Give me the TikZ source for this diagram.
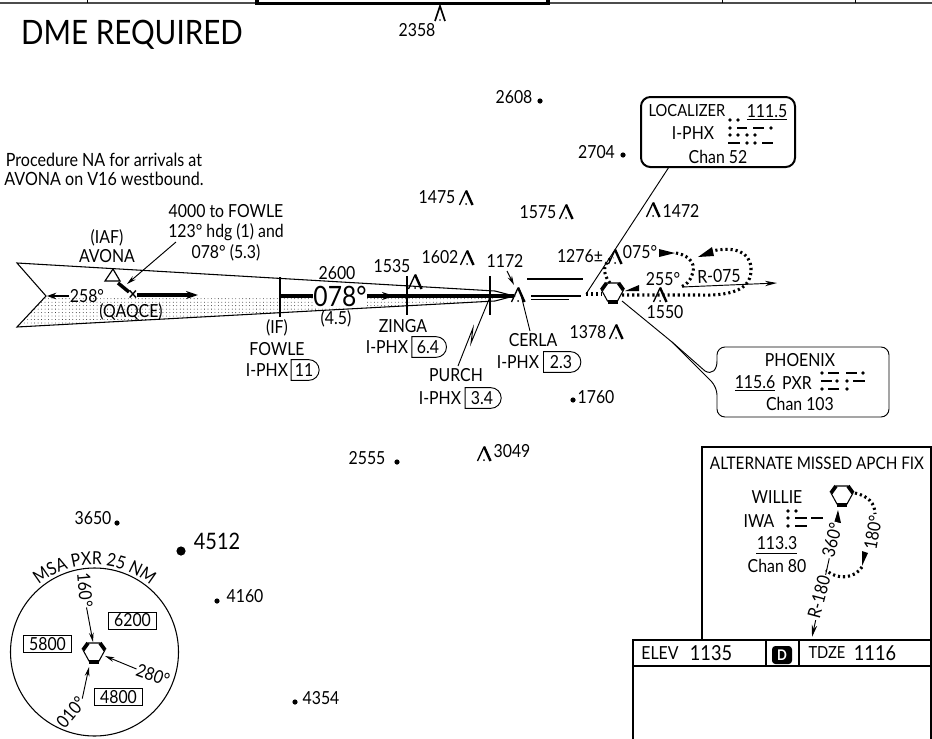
\documentclass[tikz,border=0pt]{standalone}
\usepackage{fontspec}
\setmainfont[FakeStretch=0.88]{Lato}
\usetikzlibrary{arrows.meta,patterns.meta,shapes.misc,decorations.text}
\newcommand{\fsz}{\fontsize{13.5}{15}\selectfont}
\newcommand{\fsm}{\fontsize{12.5}{14}\selectfont}
\newcommand{\msafont}{\fontsize{13.5}{15}\selectfont}
\tikzset{
  lbl/.style={font=\fsz,inner sep=0pt},
  sml/.style={font=\fsm,inner sep=0pt},
  thin line/.style={line width=.7pt},
  leader/.style={line width=.7pt,-{Stealth[length=7pt,width=3.5pt]}},
  course/.style={line width=2.4pt},
  track/.style={line width=2.3pt,dash pattern=on 1.6pt off 2.2pt},
  tag/.style={draw,line width=.7pt,rounded rectangle,rounded rectangle west arc=none,inner sep=0pt,minimum width=21pt,minimum height=15.5pt,font=\fsz},
  alt/.style={draw,line width=.7pt,inner sep=0pt,minimum width=36.5pt,minimum height=12.8pt,font=\fsz},
  mdash/.style={line width=2.2pt},
  obst/.pic={
    \draw[line width=1pt] (-6.5,7) -- (0,-7);
    \draw[line width=1.8pt] (0,-7.5) -- (6.5,7);
    \fill (0,6) circle[radius=1];
  },
  vor/.pic={
    \draw[line width=.8pt] (-6,-10) -- (6,-10) -- (11,-3) -- (5,8) -- (-5,8) -- (-11,-3) -- cycle;
    \draw[line width=2.8pt] (-6,-10) -- (-11,-3) (6,-10) -- (11,-3);
    \draw[line width=3.4pt] (-5,9) -- (5,9);
  }
}
\newcommand{\mdots}[2]{\foreach \mx in {#1} \fill (\mx,#2) circle[radius=1.9];}
\begin{document}
\begin{tikzpicture}[x=0.75pt,y=-0.75pt,line width=.7pt]
\useasboundingbox (0,0) rectangle (932,739);
\fill[white] (0,0) rectangle (932,739);
% top strip
\draw[line width=.8pt,black!70] (0,3) -- (257,3) (549,3) -- (932,3);
\draw[line width=.7pt] (87.5,0) -- (87.5,3) (722,0) -- (722,3) (855,0) -- (855,3);
\draw[line width=2.6pt] (257,0) -- (257,3.5) -- (548,3.5) -- (548,0);
\node[inner sep=0pt,font=\fontsize{25.2}{27}\selectfont] (dme) at (132,35) {DME REQUIRED};
% note
\node[lbl,font=\fontsize{13.7}{14.3}\selectfont,align=center] (note) at (104,169.5) {Procedure NA for arrivals at\\AVONA on V16 westbound.};
% feather
\fill[pattern={Dots[distance=2.6pt,radius=.32pt]},pattern color=black] (46,296) -- (495,296) -- (495,301) -- (17,327) -- cycle;
\coordinate (ftl) at (17,263); \coordinate (fn) at (46,296); \coordinate (fbl) at (17,327);
\coordinate (fts) at (495,291); \coordinate (fbs) at (495,301); \coordinate (ftip) at (514,296);
\draw[line width=.8pt] (fts) -- (ftl) -- (fn) -- (fbl) -- (fbs) -- (ftip) -- cycle;
% fixes
\draw[line width=.8pt] (280,277) -- (280,317) (407,276) -- (407,315) (490,276) -- (490,315);
% course
\node[inner sep=0pt,fill=white,font=\fontsize{21}{23}\selectfont] (crs) at (340,296) {078°};
\draw[course] (280,296) -- (crs.west);
\draw[course] (crs.east) -- (ftip);
\draw[-{Stealth[length=9pt,width=6pt]},line width=1pt] (375,296) -- (394,296);
\draw[-{Stealth[length=9pt,width=6pt]},course] (137,295) -- (198,295);
\node[lbl] (deg258) at (87,296) {258°};
\draw[-{Stealth[length=7pt,width=5pt]},line width=1pt] (deg258.west) -- (47,296);
% AVONA
\draw[line width=.9pt,fill=white] (113,269) -- (105,281) -- (120,281) -- cycle;
\draw[line width=2.6pt] (118,283) -- (129,292);
\node[inner sep=0pt,font=\fsz\bfseries] (xq) at (133,295) {×};
\node[lbl] (qaq) at (131,312) {(QAQCE)};
\node[lbl] (iaf) at (107,238) {(IAF)};
\node[lbl] (avona) at (107,256) {AVONA};
\node[lbl] (t1) at (226,211) {4000 to FOWLE};
\node[lbl] (t2) at (226,232) {123° hdg (1) and};
\node[lbl] (t3) at (226,253) {078° (5.3)};
\coordinate (ld1) at (176,242); \coordinate (ld2) at (127,284);
\draw[leader] (ld1) -- (ld2);
% FOWLE
\node[lbl] (if) at (277,328) {(IF)};
\node[lbl] (fowle) at (277,349) {FOWLE};
\node[lbl] (ip1) at (267,370) {I-PHX};
\node[tag] (t11) at (304,370) {11};
\node[lbl] (v2600) at (337,273) {2600};
\node[lbl] (v45) at (336,319) {(4.5)};
% ZINGA
\node[lbl] (v1535) at (392,266) {1535};
\pic at (415,282) {obst};
\node[lbl] (zinga) at (403,326) {ZINGA};
\node[lbl] (ip2) at (387,347) {I-PHX};
\node[tag,minimum width=26pt] (t64) at (428,347) {6.4};
% PURCH / CERLA
\node[lbl] (v1602) at (440,257) {1602};
\pic at (467,258) {obst};
\node[lbl] (v1172) at (505,261) {1172};
\pic at (518,295) {obst};
\coordinate (a1) at (507,271); \coordinate (a2) at (514,285);
\draw[leader] (a1) -- (a2);
\node[lbl] (purch) at (456,375) {PURCH};
\node[lbl] (ip3) at (440,398) {I-PHX};
\node[tag,minimum width=27pt] (t34) at (482,398) {3.4};
\coordinate (p1) at (490,297); \coordinate (p2) at (471,343); \coordinate (p3) at (473,328); \coordinate (p4) at (458,366);
\draw[line width=.7pt] (p1) -- (p2) -- (p3) -- (p4);
\node[lbl] (cerla) at (533,340) {CERLA};
\node[lbl] (ip4) at (518,362) {I-PHX};
\node[tag,minimum width=28pt] (t23) at (561,362) {2.3};
\coordinate (c1) at (521,295); \coordinate (c2) at (530,331);
\draw[line width=.7pt] (c1) -- (c2);
% double lines
\draw[line width=1.8pt] (527,279) -- (583,279) (531,296) -- (581,296);
\draw[line width=1.4pt] (531,299.5) -- (569,299.5);
% spot heights
\node[lbl] (s2358) at (417,30) {2358};
\draw[line width=1.2pt] (435,21) -- (440,6) -- (445,21);
\fill (440,20) circle[radius=.8];
\node[lbl] (s2608) at (514,97) {2608}; \fill (540,101) circle[radius=2.6];
\node[lbl] (s2704) at (596.5,152) {2704}; \fill (623,155) circle[radius=2.6];
\node[lbl] (s1475) at (437,197) {1475}; \pic at (466,198) {obst};
\node[lbl] (s1575) at (538,212) {1575}; \pic at (566,212) {obst};
\pic at (653,210) {obst}; \node[lbl] (s1472) at (681,211) {1472};
\node[lbl] (s1378) at (588,332) {1378}; \pic at (616,332) {obst};
\fill (573,400) circle[radius=2.6]; \node[lbl] (s1760) at (596,397) {1760};
\pic at (484,454) {obst}; \node[lbl] (s3049) at (512,451) {3049};
\node[lbl] (s2555) at (367,458) {2555}; \fill (397,462) circle[radius=2.6];
\node[lbl] (s3650) at (93,518) {3650}; \fill (117,523) circle[radius=2.6];
\fill (181,551) circle[radius=4.6]; \node[inner sep=0pt,font=\fontsize{17}{19}\selectfont] (s4512) at (217,541) {4512};
\fill (217,601) circle[radius=2.6]; \node[lbl] (s4160) at (245,596) {4160};
\fill (295,702) circle[radius=2.6]; \node[lbl] (s4354) at (321,698) {4354};
% VOR and tracks
\coordinate (vorc) at (612.5,293);
\coordinate (dl) at (586,294);
\draw[track] (dl) -- (602,294);
\draw[track] (622,295) -- (700,295) .. controls (735,296) and (752,288) .. (751,268) .. controls (750,252) and (735,246) .. (712,251);
\fill (698,257) -- (712,247) -- (714,256) -- cycle;
\draw[track] (610,283) .. controls (601,272) and (604,262) .. (613,257);
\draw[track] (676,253) .. controls (692,256) and (696,266) .. (692,275) .. controls (690,281) and (686,285) .. (681,287);
\fill (675,253) -- (659,249) -- (659,257) -- cycle;
\fill (625,291) -- (639,285) -- (639,291) -- cycle;
\pic at (vorc) {vor};
\pic at (660,295) {obst};
\pic at (615,257) {obst};
\node[lbl] (s1276) at (580,256) {1276±};
\node[lbl] (d075) at (640,252) {075°};
\node[lbl] (d255) at (663,279) {255°};
\node[lbl] (s1550) at (665,312) {1550};
\node[lbl,rotate=2] (r075) at (719,276) {R-075};
\coordinate (r1) at (682,287); \coordinate (r2) at (777,283);
\draw[line width=.7pt,-{Stealth[length=9pt,width=4pt]}] (r1) -- (r2);
% Localizer box
\draw[line width=1.5pt,rounded corners=7pt] (641,97) rectangle (795,167);
\coordinate (lb) at (669,167);
\draw[line width=.7pt] (lb) -- (dl);
\node[sml] (loc) at (687,111) {LOCALIZER};
\node[lbl] (f1115) at (767,112) {\underline{111.5}};
\node[lbl] (iphx) at (693,133) {I-PHX};
\node[lbl] (ch52) at (718,157) {Chan 52};
\mdots{730,738}{120}
\mdots{730,771}{128}
\draw[mdash] (737,128) -- (747,128) (753,128) -- (764,128);
\mdots{730,738,747,755}{135}
\mdots{747,755}{143}
\draw[mdash] (728,143) -- (740,143) (762,143) -- (773,143);
% Phoenix box
\coordinate (pv1) at (622,301);
\coordinate (pm) at (672,342);
\draw[line width=.7pt] (pv1) -- (pm);
\draw[line width=.7pt,rounded corners=6pt] (pm) -- (717,387) -- (717,417) -- (889,417) -- (889,347) -- (717,347) -- (717,361);
\draw[line width=.7pt] (717,361) .. controls (717,370) and (712,375) .. (705,371) -- (pm);
\node[lbl] (phx) at (800,360) {PHOENIX};
\node[lbl] (f1156) at (755,383) {\underline{115.6}};
\node[lbl] (pxr) at (797,383) {PXR};
\node[lbl] (ch103) at (800,404) {Chan 103};
\mdots{822,863}{373}
\draw[mdash] (828,373) -- (839,373) (846,373) -- (857,373);
\mdots{837,847}{381}
\draw[mdash] (821,381) -- (832,381) (853,381) -- (865,381);
\mdots{822,847}{389}
\draw[mdash] (828,389) -- (839,389);
% alternate box
\draw[line width=.8pt] (702,640) -- (702,447) -- (932,447);
\node[inner sep=0pt,font=\fontsize{13}{14}\selectfont] (altt) at (817,463) {ALTERNATE MISSED APCH FIX};
\node[lbl] (will) at (777,497) {WILLIE};
\node[lbl] (iwa) at (759,521) {IWA};
\node[lbl] (f1133) at (777,543) {113.3};
\draw[line width=.7pt] (756,553) -- (797,553);
\node[lbl] (ch80) at (777,566) {Chan 80};
\mdots{788,796}{511}
\fill (788,518) circle[radius=1.9]; \fill (788,526) circle[radius=1.9];
\draw[mdash] (795,518) -- (807,518) (811,518) -- (823,518) (795,526) -- (807,526);
\coordinate (w1) at (837,523); \coordinate (w2) at (812,637);
\draw[line width=.7pt,-{Stealth[length=9pt,width=4pt]}] (w1) -- (w2);
\fill (838,510) -- (834,523) -- (841,523) -- cycle;
\draw[track] (855,493) .. controls (868,496) and (875,503) .. (875,514);
\draw[track] (862,567) .. controls (855,578) and (838,581) .. (826,570);
\fill (862,566) -- (862,551) -- (868,553) -- cycle;
\pic at (842,496) {vor};
\node[lbl,rotate=75,fill=white,inner xsep=1pt] (d360) at (832,540) {360°};
\node[lbl,rotate=75,fill=white,inner xsep=1pt] (r180) at (819,597) {R-180};
\node[lbl,rotate=80] (d180) at (873,533) {180°};
% elevation box
\draw[line width=1.5pt] (633,739) -- (633,640) -- (932,640);
\draw[line width=.8pt] (633,666) -- (932,666);
\draw[line width=.8pt] (766,640) -- (766,666) (799,640) -- (799,666);
\draw[line width=.8pt] (931,447) -- (931,739);
\node[lbl] (elev) at (660,653) {ELEV};
\node[inner sep=0pt,font=\fontsize{15.5}{16}\selectfont] (e1135) at (711,653) {1135};
\node[fill=black,text=white,rounded corners=2.5pt,inner sep=0pt,minimum width=15pt,minimum height=13.5pt,font=\fontsize{11}{12}\selectfont\bfseries] (dbox) at (782,655) {D};
\node[sml] (tdze) at (827,653) {TDZE};
\node[inner sep=0pt,font=\fontsize{15.5}{16}\selectfont] (e1116) at (875,653) {1116};
% MSA
\coordinate (msa) at (94.5,652);
\draw[line width=.8pt] (msa) circle[radius=84];
\path[decorate,decoration={text along path,text align=center,text={|\msafont|MSA PXR 25 NM}}] (19.2,608.5) .. controls (52.7,550.5) and (136.3,550.5) .. (169.8,608.5);
\pic at (94,653) {vor};
\node[alt] (a6200) at (132.5,620.5) {6200};
\node[alt] (a5800) at (47.5,644) {5800};
\node[alt] (a4800) at (118.5,697) {4800};
\node[lbl,rotate=-85] (m160) at (85,590) {160°};
\node[lbl,rotate=-20] (m280) at (153,675) {280°};
\node[lbl,rotate=50] (m010) at (71,712) {010°};
\coordinate (hx1) at (93,642); \coordinate (hx2) at (105,656); \coordinate (hx3) at (89,667);
\draw[leader] (m160.east) -- (hx1);
\draw[leader] (m280.west) -- (hx2);
\draw[leader] (m010.east) -- (hx3);
\end{tikzpicture}
\end{document}
